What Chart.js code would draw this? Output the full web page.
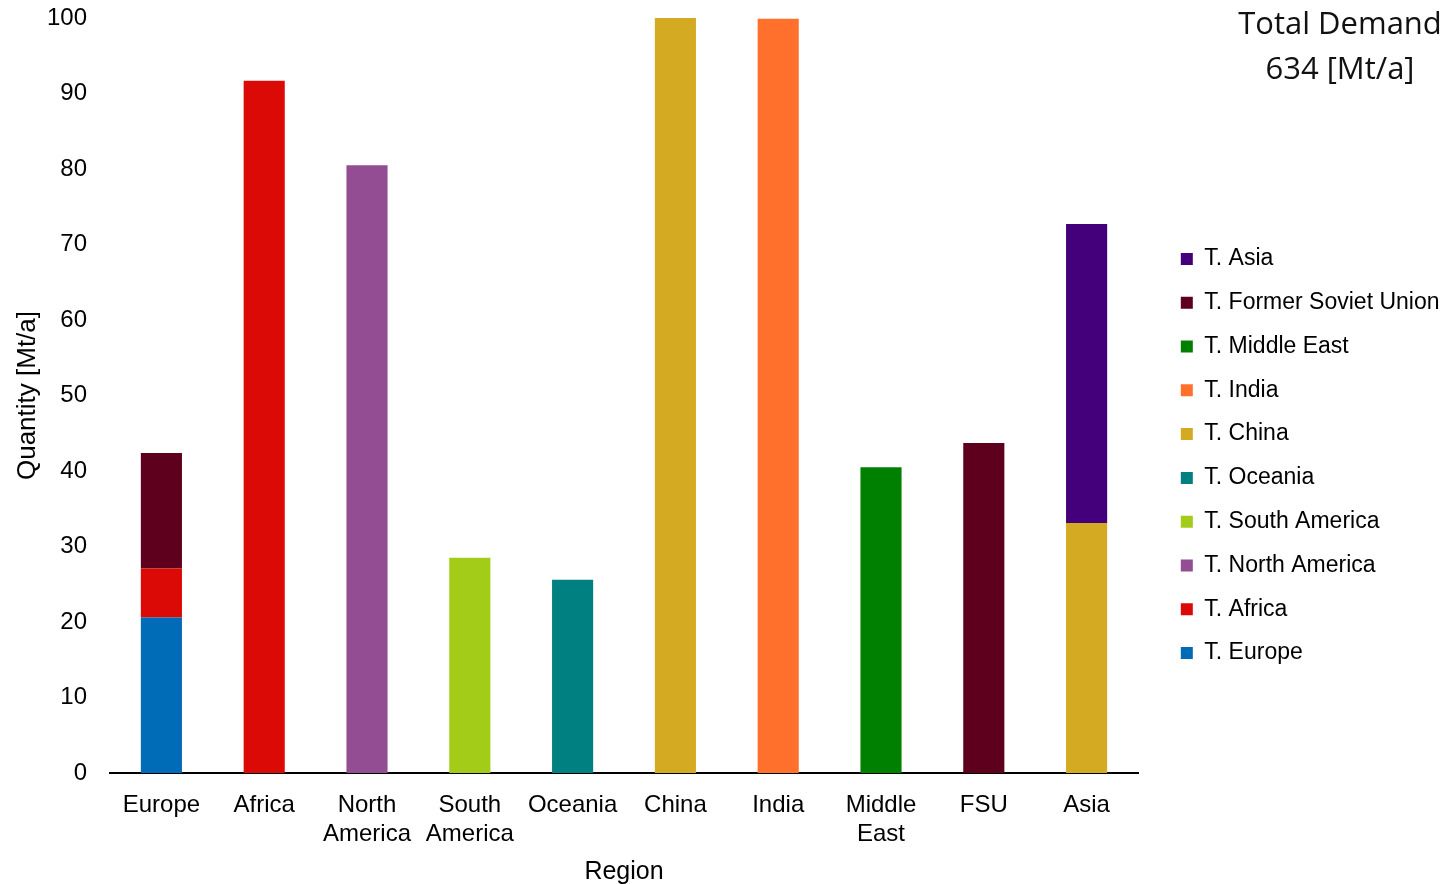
<!DOCTYPE html>
<html>
<head>
<meta charset="utf-8">
<script src="https://cdn.jsdelivr.net/npm/chart.js@4.4.0/dist/chart.umd.min.js"></script>
<style>
  html, body { margin: 0; padding: 0; background: #fff; }
  #wrap { position: relative; width: 1449px; height: 884px; }
  #total {
    position: absolute; left: 1230px; top: 0px; width: 220px;
    text-align: center; font-family: "Open Sans", sans-serif;
    font-size: 31px; line-height: 45px; color: #111;
  }
</style>
</head>
<body>
<div id="wrap">
  <canvas id="chart" width="1449" height="884"></canvas>
  <div id="total">Total Demand<br>634 [Mt/a]</div>
</div>
<script>
  // Regions on the x axis
  const regionLabels = ['Europe', 'Africa', ['North', 'America'], ['South', 'America'], 'Oceania',
    'China', 'India', ['Middle', 'East'], 'FSU', 'Asia'];

  // Series values per region (Mt/a), null where a series is absent
  const tEurope       = [20.6, null, null, null, null, null, null, null, null, null];
  const tAfrica       = [6.5, 91.7, null, null, null, null, null, null, null, null];
  const tNorthAmerica = [null, null, 80.5, null, null, null, null, null, null, null];
  const tSouthAmerica = [null, null, null, 28.5, null, null, null, null, null, null];
  const tOceania      = [null, null, null, null, 25.6, null, null, null, null, null];
  const tChina        = [null, null, null, null, null, 100.2, null, null, null, 33.1];
  const tIndia        = [null, null, null, null, null, null, 99.9, null, null, null];
  const tMiddleEast   = [null, null, null, null, null, null, null, 40.5, null, null];
  const tFSU          = [15.3, null, null, null, null, null, null, null, 43.7, null];
  const tAsia         = [null, null, null, null, null, null, null, null, null, 39.6];

  const yTicks = [0, 10, 20, 30, 40, 50, 60, 70, 80, 90, 100];

  const FONT = '"Liberation Sans", Arial, sans-serif';

  const series = [
    { label: 'T. Europe',              data: tEurope,       color: '#006bb6' },
    { label: 'T. Africa',              data: tAfrica,       color: '#dc0a06' },
    { label: 'T. North America',       data: tNorthAmerica, color: '#934e93' },
    { label: 'T. South America',       data: tSouthAmerica, color: '#a2cc18' },
    { label: 'T. Oceania',             data: tOceania,      color: '#008080' },
    { label: 'T. China',               data: tChina,        color: '#d4aa22' },
    { label: 'T. India',               data: tIndia,        color: '#ff702d' },
    { label: 'T. Middle East',         data: tMiddleEast,   color: '#008000' },
    { label: 'T. Former Soviet Union', data: tFSU,          color: '#5e001d' },
    { label: 'T. Asia',                data: tAsia,         color: '#43007a' }
  ];

  const datasets = series.map(s => ({
    label: s.label,
    data: s.data,
    backgroundColor: s.color,
    borderWidth: 0,
    categoryPercentage: 1.0,
    barPercentage: 0.4
  }));

  // leave some white space between the plot and the legend entries
  const legendShift = {
    id: 'legendShift',
    afterLayout(chart) {
      chart.legend.left += 22;
      chart.legend.right += 22;
    }
  };

  new Chart(document.getElementById('chart'), {
    type: 'bar',
    data: { labels: regionLabels, datasets },
    plugins: [legendShift],
    options: {
      responsive: false,
      animation: false,
      layout: { padding: { top: 0, left: 12, right: 21.5, bottom: 0 } },
      scales: {
        x: {
          stacked: true,
          grid: { display: false, drawTicks: false },
          border: { display: true, color: '#000', width: 2 },
          ticks: {
            color: '#000',
            font: { family: FONT, size: 24, lineHeight: 1.2 },
            padding: 18,
            maxRotation: 0,
            autoSkip: false
          },
          title: {
            display: true, text: 'Region', color: '#000',
            font: { family: FONT, size: 25 }, padding: { top: 6, bottom: -3 }
          },
          afterFit: s => { s.height = 111; }
        },
        y: {
          stacked: true,
          min: 0, max: 100,
          afterBuildTicks: axis => { axis.ticks = yTicks.map(v => ({ value: v })); },
          grid: { display: false, drawTicks: false },
          border: { display: false },
          ticks: {
            color: '#000',
            font: { family: FONT, size: 24 },
            padding: 23
          },
          title: {
            display: true, text: 'Quantity [Mt/a]', color: '#000',
            font: { family: FONT, size: 26 }, padding: { top: 0, bottom: 8 }
          },
          afterFit: s => {
            s.width = 98;
            s.paddingTop = 18;
            s.paddingBottom = 0;
          }
        }
      },
      plugins: {
        legend: {
          position: 'right',
          reverse: true,
          align: 'center',
          title: { display: true, text: ' ', font: { size: 10 }, padding: { top: 0, bottom: 16 } },
          labels: {
            color: '#000',
            font: { family: FONT, size: 23 },
            boxWidth: 12,
            boxHeight: 12,
            padding: 20.8
          }
        },
        tooltip: { enabled: false }
      }
    }
  });
</script>
</body>
</html>
